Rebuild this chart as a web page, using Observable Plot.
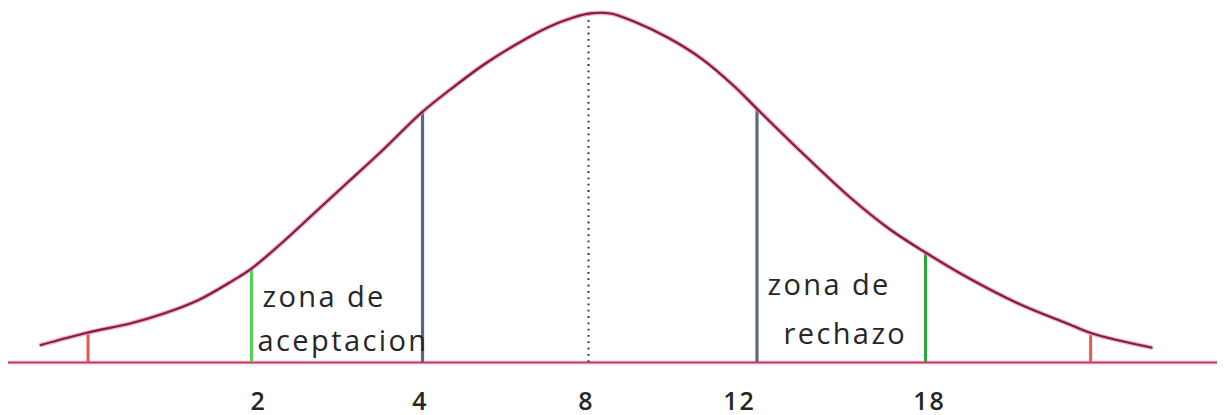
<!DOCTYPE html>
<html>
<head>
<meta charset="utf-8">
<script src="https://cdn.jsdelivr.net/npm/d3@7"></script>
<script src="https://cdn.jsdelivr.net/npm/@observablehq/plot@0.6"></script>
<style>
  html, body { margin: 0; padding: 0; background: #fff; }
</style>
</head>
<body>
<div id="chart"></div>
<script>
// Curve: position in standard units (z), height (density)
const curveZ = [-3.25, -2.97, -2.72, -2.52, -2.32, -2.13, -2.0, -1.83, -1.63, -1.43, -1.23, -0.99, -0.82, -0.62, -0.42, -0.23, -0.09, 0.01, 0.13, 0.27, 0.47, 0.67, 0.86, 1.01, 1.26, 1.56, 1.79, 2.0, 2.25, 2.55, 2.84, 2.99, 3.34];
const curveD = [0.0200, 0.0343, 0.0446, 0.056, 0.0709, 0.0914, 0.1074, 0.1349, 0.1703, 0.2057, 0.2411, 0.2857, 0.312, 0.3406, 0.3646, 0.384, 0.3943, 0.3989, 0.3989, 0.3897, 0.3714, 0.3474, 0.3166, 0.288, 0.2411, 0.1874, 0.152, 0.1257, 0.0971, 0.0674, 0.0446, 0.0331, 0.0171];

// Vertical markers
const redZ = [-2.97, 2.98];
const redTop = [0.0343, 0.0309];
const greenZ = [-2.0, 2.0];
const greenTop = [0.1074, 0.1234];
const greenColors = ["#55d255", "#2aa83a"];
const blueZ = [-0.985, 1.0];
const blueTop = [0.2857, 0.288];
const meanZ = [0];
const meanTop = [0.3977];

// Axis labels
const tickLabels = ["2", "4", "8", "12", "18"];
const tickLabelZ = [-1.958, -0.997, -0.012, 0.896, 2.024];

// Zone annotations
const zoneText = ["zona de", "aceptacion", "zona de", "rechazo"];
const zoneZ = [-1.935, -1.964, 1.062, 1.157];
const zoneY = [0.0629, 0.0137, 0.0766, 0.0217];

const curve = curveZ.map((z, i) => ({z, d: curveD[i]}));
const reds = redZ.map((z, i) => ({z, top: redTop[i]}));
const greens = greenZ.map((z, i) => ({z, top: greenTop[i], c: greenColors[i]}));
const blues = blueZ.map((z, i) => ({z, top: blueTop[i]}));
const means = meanZ.map((z, i) => ({z, top: meanTop[i]}));
const ticks = tickLabels.map((t, i) => ({t, z: tickLabelZ[i]}));
const zones = zoneText.map((t, i) => ({t, z: zoneZ[i], y: zoneY[i]}));

const chart = Plot.plot({
  width: 1224,
  height: 415,
  marginTop: 12,
  marginBottom: 53,
  marginLeft: 0,
  marginRight: 0,
  style: {background: "#fff", overflow: "visible"},
  x: {domain: [-3.4896, 3.7745], axis: null},
  y: {domain: [0, 0.4], axis: null},
  marks: [
    Plot.ruleY([0], {stroke: "#f0a8c0", strokeWidth: 3.5, insetLeft: 8, insetRight: 7}),
    Plot.ruleY([0], {stroke: "#c23468", strokeWidth: 1.6, insetLeft: 8, insetRight: 7}),
    Plot.ruleX(means, {x: "z", y1: 0, y2: "top", stroke: "#333", strokeWidth: 2, strokeDasharray: "1.8,4.5"}),
    Plot.ruleX(reds, {x: "z", y1: 0, y2: "top", stroke: "#e85a48", strokeWidth: 3}),
    Plot.ruleX(greens, {x: "z", y1: 0, y2: "top", stroke: "c", strokeWidth: 3}),
    Plot.ruleX(blues, {x: "z", y1: 0, y2: "top", stroke: "#5a6880", strokeWidth: 3.2}),
    Plot.line(curve, {x: "z", y: "d", curve: "catmull-rom", stroke: "#e88aaa", strokeWidth: 4.5, strokeOpacity: 0.7}),
    Plot.line(curve, {x: "z", y: "d", curve: "catmull-rom", stroke: "#851a44", strokeWidth: 2.2}),
    Plot.text(zones, {x: "z", y: "y", text: "t", textAnchor: "start", lineAnchor: "bottom", fontSize: 29, fontFamily: "Open Sans", fill: "#262626"}),
    Plot.text(ticks, {x: "z", y: 0, dy: 47, text: "t", textAnchor: "middle", lineAnchor: "bottom", fontSize: 25, fontWeight: 600, fontFamily: "Open Sans", fill: "#262626"})
  ]
});
const textGroups = chart.querySelectorAll('g[aria-label="text"]');
if (textGroups[0]) textGroups[0].setAttribute("letter-spacing", "2.4");
if (textGroups[1]) textGroups[1].setAttribute("letter-spacing", "2");
document.getElementById("chart").appendChild(chart);
</script>
</body>
</html>
